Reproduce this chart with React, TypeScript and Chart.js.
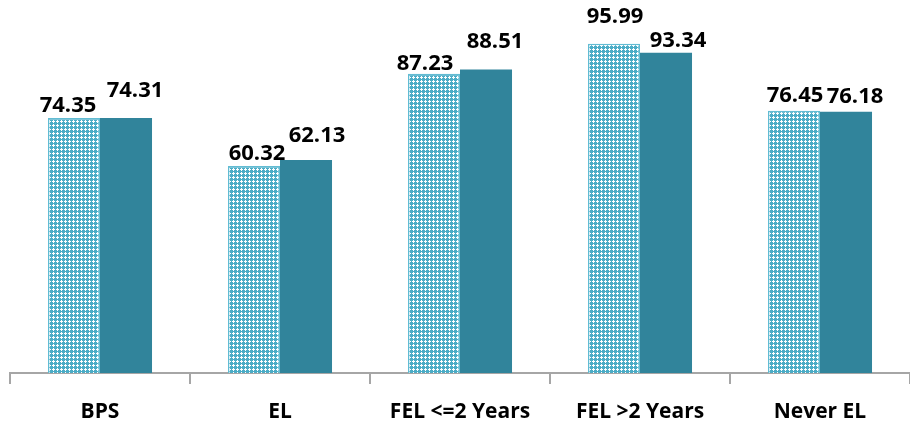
import React, { useEffect, useRef } from "react";
import { Chart, registerables } from "chart.js";

Chart.register(...registerables);

const categories = ["BPS", "EL", "FEL <=2 Years", "FEL >2 Years", "Never EL"];
const seriesA = [74.35, 60.32, 87.23, 95.99, 76.45];
const seriesB = [74.31, 62.13, 88.51, 93.34, 76.18];

// label nudges (px) to mimic the original label placement
const nudgeA = [
  [-6, -12],
  [3, -12],
  [-9, -10],
  [1, -27],
  [1, -15],
];
const nudgeB = [
  [9, -27],
  [11, -24],
  [9, -28],
  [12, -12],
  [9, -15],
];

const FONT = "'Open Sans', 'DejaVu Sans', sans-serif";

function makePattern(): CanvasPattern | string {
  const c = document.createElement("canvas");
  c.width = 4;
  c.height = 4;
  const g = c.getContext("2d");
  if (!g) return "#8fd0e0";
  g.fillStyle = "#4BACC6";
  g.fillRect(0, 0, 4, 4);
  g.fillStyle = "#ffffff";
  g.fillRect(1, 0, 1, 3);
  g.fillRect(0, 1, 3, 1);
  const p = g.createPattern(c, "repeat");
  return p || "#8fd0e0";
}

const labelPlugin = {
  id: "barLabels",
  afterDatasetsDraw(chart: any) {
    const ctx = chart.ctx;
    ctx.save();
    ctx.font = `bold 22px ${FONT}`;
    ctx.fillStyle = "#000000";
    ctx.textAlign = "center";
    ctx.textBaseline = "middle";
    chart.data.datasets.forEach((ds: any, di: number) => {
      const meta = chart.getDatasetMeta(di);
      const nudges = di === 0 ? nudgeA : nudgeB;
      meta.data.forEach((bar: any, i: number) => {
        const v = ds.data[i];
        const [dx, dy] = nudges[i];
        ctx.fillText(v.toFixed(2), bar.x + dx, bar.y + dy);
      });
    });
    ctx.restore();
  },
};

export default function App() {
  const ref = useRef<HTMLCanvasElement>(null);
  useEffect(() => {
    if (!ref.current) return;
    const chart = new Chart(ref.current, {
      type: "bar",
      data: {
        labels: categories,
        datasets: [
          {
            label: "A",
            data: seriesA,
            backgroundColor: makePattern() as any,
            borderColor: "#62BCD3",
            borderWidth: 1.5,
            categoryPercentage: 0.578,
            barPercentage: 1,
          },
          {
            label: "B",
            data: seriesB,
            backgroundColor: "#31849B",
            borderColor: "#31849B",
            borderWidth: 0,
            categoryPercentage: 0.578,
            barPercentage: 1,
          },
        ],
      },
      options: {
        animation: false,
        responsive: false,
        maintainAspectRatio: false,
        layout: { padding: { left: 10, right: 0, top: 30, bottom: 0 } },
        plugins: {
          legend: { display: false },
          tooltip: { enabled: false },
        },
        scales: {
          y: { display: false, min: 0, max: 100 },
          x: {
            offset: true,
            afterFit: (scale: any) => {
              scale.height = 48;
            },
            border: { display: true, color: "#A6A6A6", width: 2 },
            grid: {
              offset: true,
              drawOnChartArea: false,
              drawTicks: true,
              tickLength: 11,
              color: "#A6A6A6",
              lineWidth: 2,
            },
            ticks: {
              color: "#000000",
              font: { family: FONT, size: 21, weight: "bold" },
              padding: 15,
              maxRotation: 0,
            },
          },
        },
      },
      plugins: [labelPlugin],
    });
    return () => chart.destroy();
  }, []);
  return (
    <div style={{ position: "absolute", left: 0, top: 0, width: 910, height: 421, background: "#fff" }}>
      <canvas ref={ref} width={910} height={421} style={{ display: "block" }} />
    </div>
  );
}
